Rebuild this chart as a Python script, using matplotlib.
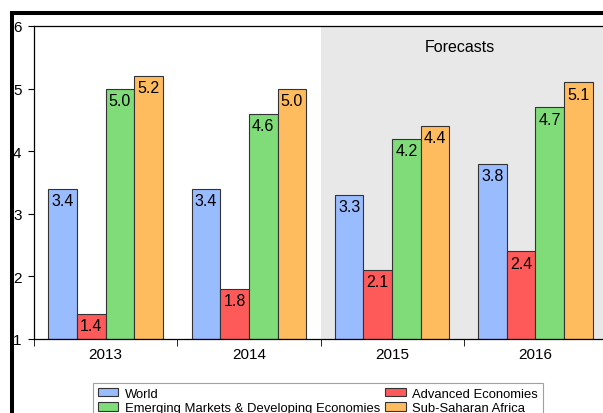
import numpy as np
from matplotlib import pyplot as plt
from matplotlib.patches import Rectangle

plt.rcParams['font.family'] = ['Liberation Sans', 'DejaVu Sans']

# 연도별 성장률 (%)
years = ['2013', '2014', '2015', '2016']
world = [3.4, 3.4, 3.3, 3.8]
advanced = [1.4, 1.8, 2.1, 2.4]
emerging = [5.0, 4.6, 4.2, 4.7]
ssa = [5.2, 5.0, 4.4, 5.1]
series_names = ['World', 'Advanced Economies',
                'Emerging Markets & Developing Economies', 'Sub-Saharan Africa']
colors = ['#99bbff', '#ff5a5a', '#80dc78', '#ffbc5e']

fig = plt.figure(figsize=(6.03, 4.14), dpi=100)
W, H = 603, 414

# 바깥 두꺼운 테두리
fig.patches.append(Rectangle((12 / W, -0.2), 1.2, 1 - 14 / H + 0.2,
                             transform=fig.transFigure, fill=False,
                             edgecolor='black', linewidth=2.9))

ax = fig.add_axes([34 / W, 1 - 340 / H, 573 / W, 313 / H])

x = np.arange(len(years))
width = 0.2
data = [world, advanced, emerging, ssa]
bars = []
for i, vals in enumerate(data):
    pos = x - 0.3 + i * width
    b = ax.bar(pos, np.array(vals) - 1, width, bottom=1, color=colors[i],
               edgecolor='#333333', linewidth=0.8, zorder=2)
    bars.append(b)
    for px, v in zip(pos, vals):
        ax.annotate(f'{v:.1f}', (px, v), xytext=(0, -3), textcoords='offset points',
                    ha='center', va='top', fontsize=11.5, zorder=3)

# 예측 구간 음영
ax.axvspan(1.5, 3.5, color='#e8e8e8', zorder=0, linewidth=0)
ax.text(2.47, 5.68, 'Forecasts', ha='center', va='center', fontsize=11.5)

ax.set_xlim(-0.5, 3.5)
ax.set_ylim(1, 6)
ax.set_yticks([1, 2, 3, 4, 5, 6])
ax.tick_params(axis='y', direction='out', length=4, pad=5, labelsize=11)
ax.set_xticks(x)
ax.set_xticklabels(years)
ax.set_xticks([-0.5, 0.5, 1.5, 2.5], minor=True)
ax.tick_params(axis='x', which='major', length=0, pad=6, labelsize=11)
ax.tick_params(axis='x', which='minor', direction='out', length=5)
for s in ax.spines.values():
    s.set_linewidth(0.9)

order = [0, 2, 1, 3]
leg = fig.legend([bars[i] for i in order], [series_names[i] for i in order],
                 loc='upper left', bbox_to_anchor=(93 / W, 1 - 384 / H),
                 ncol=2, fontsize=9.4, frameon=True, fancybox=False,
                 edgecolor='#888888', handlelength=1.6, handleheight=0.65,
                 handletextpad=0.5, columnspacing=0.35, labelspacing=0.22,
                 borderpad=0.35, borderaxespad=0)
leg.get_frame().set_linewidth(0.8)

plt.savefig('out.png', dpi=100)
